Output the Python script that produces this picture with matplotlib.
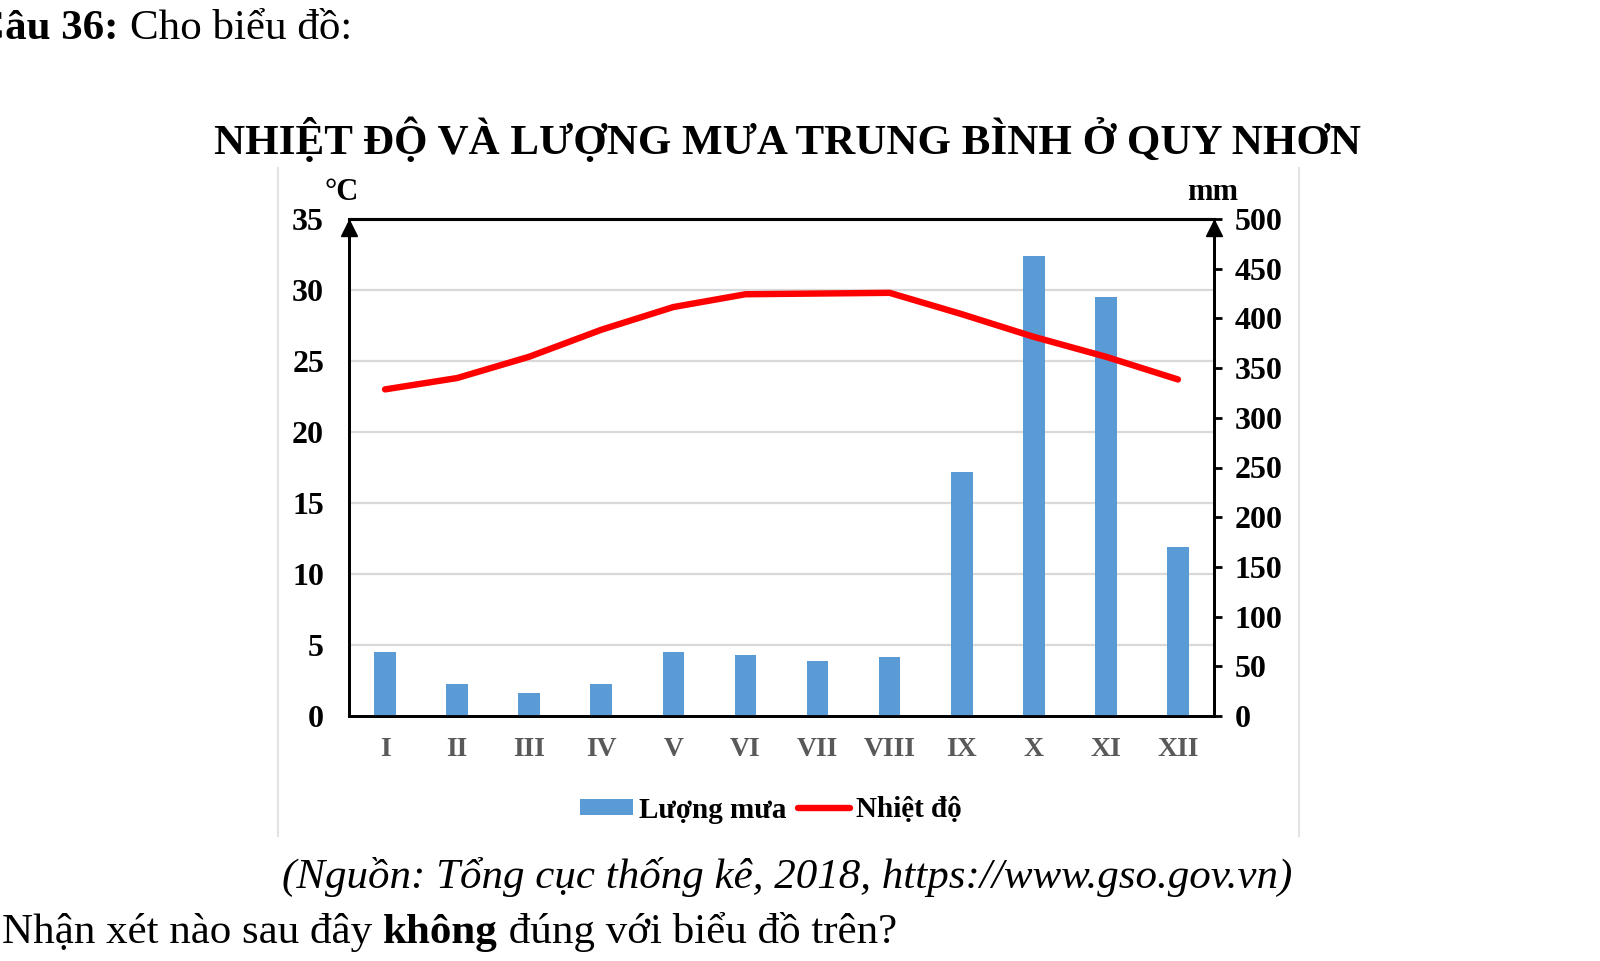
#!/usr/bin/env python3
# -*- coding: utf-8 -*-
"""Nhiệt độ và lượng mưa trung bình ở Quy Nhơn."""
import matplotlib
matplotlib.use("Agg")
import matplotlib.pyplot as plt
from matplotlib.lines import Line2D
from matplotlib.patches import Patch

# --- Dati ---
MONTHS = ["I", "II", "III", "IV", "V", "VI", "VII", "VIII", "IX", "X", "XI", "XII"]
RAIN = [64, 32, 23, 32, 64, 61, 55, 59, 245, 463, 422, 170]                      # mm
TEMP = [23.0, 23.8, 25.3, 27.2, 28.8, 29.7, 29.75, 29.8, 28.3, 26.7, 25.3, 23.7]  # °C
TEMP_TICKS = [0, 5, 10, 15, 20, 25, 30, 35]
RAIN_TICKS = [0, 50, 100, 150, 200, 250, 300, 350, 400, 450, 500]
GRID_TEMPS = [5, 10, 15, 20, 25, 30]

TITLE = "NHIỆT ĐỘ VÀ LƯỢNG MƯA TRUNG BÌNH Ở QUY NHƠN"
SOURCE = "(Nguồn: Tổng cục thống kê, 2018, https://www.gso.gov.vn)"
QUESTION = [("Nhận xét nào sau đây ", "normal"), ("không", "bold"),
            (" đúng với biểu đồ trên?", "normal")]

# --- Stile ---
W, H = 1600, 961
SERIF = "Liberation Serif"
BLUE = "#5b9bd5"
RED = "#ff0000"
GRID = "#d9d9d9"
GRAY_TXT = "#595959"

plt.rcParams["font.family"] = [SERIF, "DejaVu Serif"]


def fx(x):
    return x / W


def fy(y):
    return 1 - y / H


fig = plt.figure(figsize=(W / 100, H / 100), dpi=100)

# riquadro grigio del grafico
for xpix in (278, 1299):
    fig.add_artist(Line2D([fx(xpix), fx(xpix)], [fy(168), fy(836)], color="#e3e3e3", lw=1.5))

# assi: sinistra temperatura, destra pioggia
left, right, top, bottom = 349, 1214, 219, 716
ax = fig.add_axes([fx(left), fy(bottom), (right - left) / W, (bottom - top) / H])
ax2 = ax.twinx()

ax.set_xlim(-0.5, len(MONTHS) - 0.5)
ax.set_ylim(0, 35)
ax2.set_ylim(0, 500)

for g in GRID_TEMPS:
    ax.axhline(g, color=GRID, lw=1.6, zorder=0)

x = list(range(len(MONTHS)))
ax2.bar(x, RAIN, width=0.3, color=BLUE, zorder=2, label="Lượng mưa")
ax2.plot(x, TEMP, color=RED, lw=4.6, solid_capstyle="round", solid_joinstyle="round",
         transform=ax.transData, zorder=3, label="Nhiệt độ")

for a in (ax, ax2):
    for s in a.spines.values():
        s.set_linewidth(2)
        s.set_color("black")
    a.spines["top"].set_linewidth(2.2)

ax.set_xticks(x)
ax.set_xticklabels(MONTHS, fontsize=20, fontweight="bold", color=GRAY_TXT)
ax.tick_params(axis="x", length=0, pad=15)
ax.set_yticks(TEMP_TICKS)
ax.set_yticklabels([str(t) for t in TEMP_TICKS], fontsize=23, fontweight="bold")
ax.tick_params(axis="y", length=0, pad=18)

ax2.set_yticks(RAIN_TICKS)
ax2.set_yticklabels([str(r) for r in RAIN_TICKS], fontsize=23, fontweight="bold")
ax2.tick_params(axis="y", direction="out", length=6, width=2, pad=9)

# frecce in cima agli assi
for xa in (0, 1):
    ax.plot([xa], [0.982], marker="^", markersize=11, color="black",
            transform=ax.transAxes, clip_on=False, zorder=5)

# unità
fig.text(fx(342), fy(193), "°C", fontsize=22, fontweight="bold", ha="center", va="center")
fig.text(fx(1213), fy(192), "mm", fontsize=22, fontweight="bold", ha="center", va="center")

# legenda
handles = [Patch(facecolor=BLUE, edgecolor="none"),
           Line2D([0], [0], color=RED, lw=4.6, solid_capstyle="round")]
fig.legend(handles, ["Lượng mưa", "Nhiệt độ"], loc="center", ncol=2,
           bbox_to_anchor=(fx(771), fy(810)), frameon=False,
           prop={"family": SERIF, "weight": "bold", "size": 21},
           handlelength=1.8, handleheight=0.5, handletextpad=0.2, columnspacing=0.4)

# testi
fig.text(fx(788), fy(154), TITLE, fontsize=31, fontweight="bold", ha="center", va="baseline")
fig.text(fx(118), fy(39), "Câu 36:", fontsize=31, fontweight="bold", ha="right", va="baseline")
fig.text(fx(130), fy(39), "Cho biểu đồ:", fontsize=31, ha="left", va="baseline")
fig.text(fx(787), fy(888), SOURCE, fontsize=31, style="italic", ha="center", va="baseline")

renderer = fig.canvas.get_renderer()
xpos = 2
for chunk, weight in QUESTION:
    t = fig.text(fx(xpos), fy(943), chunk, fontsize=31, fontweight=weight,
                 ha="left", va="baseline")
    xpos = t.get_window_extent(renderer).x1

fig.savefig("out.png", dpi=100)
